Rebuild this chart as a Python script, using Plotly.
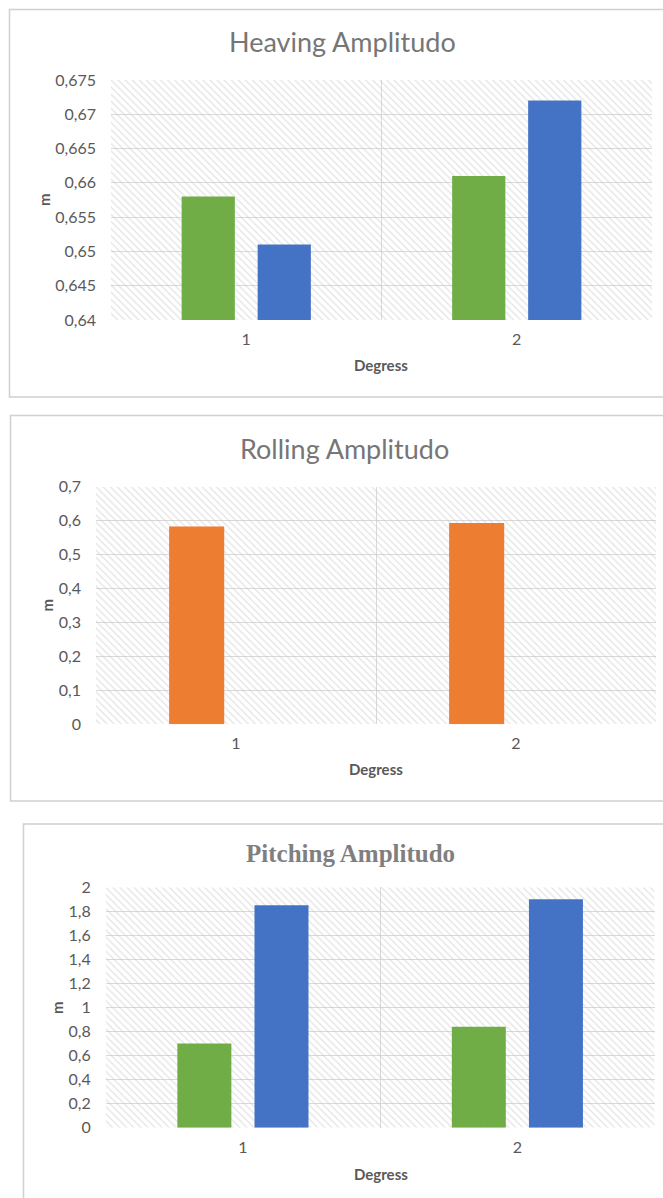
import plotly.graph_objects as go

# ---- data ----
DEGREES = [1, 2]
DEGREE_LABELS = ["1", "2"]

HEAVE_GREEN = [0.658, 0.661]
HEAVE_BLUE = [0.651, 0.672]
HEAVE_TICKS = [0.64, 0.645, 0.65, 0.655, 0.66, 0.665, 0.67, 0.675]
HEAVE_TICKTEXT = ["0,64", "0,645", "0,65", "0,655", "0,66", "0,665", "0,67", "0,675"]

ROLL_ORANGE = [0.583, 0.593]
ROLL_EMPTY = [None, None]
ROLL_TICKS = [0, 0.1, 0.2, 0.3, 0.4, 0.5, 0.6, 0.7]
ROLL_TICKTEXT = ["0", "0,1", "0,2", "0,3", "0,4", "0,5", "0,6", "0,7"]

PITCH_GREEN = [0.70, 0.84]
PITCH_BLUE = [1.85, 1.90]
PITCH_TICKS = [0, 0.2, 0.4, 0.6, 0.8, 1.0, 1.2, 1.4, 1.6, 1.8, 2.0]
PITCH_TICKTEXT = ["0", "0,2", "0,4", "0,6", "0,8", "1", "1,2", "1,4", "1,6", "1,8", "2"]

TITLES = ["Heaving Amplitudo", "Rolling Amplitudo", "Pitching Amplitudo"]
X_TITLE = "Degress"
Y_TITLE = "m"

# ---- style ----
W, H = 663, 1198
GREEN = "#70AD47"
BLUE = "#4472C4"
ORANGE = "#ED7D31"
GRID = "#D9D9D9"
TEXT = "#595959"
SANS = "Lato, 'Open Sans', sans-serif"
X_RANGE = [0.5, 2.5]


def px_x(v):
    return v / W


def px_y(v):
    return 1 - v / H


# plot-area rectangles in pixels: (left, top, right, bottom)
AREAS = [
    (111, 80, 652, 320),
    (96, 486.7, 656, 724.3),
    (105.7, 887.3, 654.6, 1127.7),
]

fig = go.Figure()

panels = [
    dict(series=[(HEAVE_GREEN, GREEN), (HEAVE_BLUE, BLUE)],
         ticks=HEAVE_TICKS, ticktext=HEAVE_TICKTEXT),
    dict(series=[(ROLL_ORANGE, ORANGE), (ROLL_EMPTY, BLUE)],
         ticks=ROLL_TICKS, ticktext=ROLL_TICKTEXT),
    dict(series=[(PITCH_GREEN, GREEN), (PITCH_BLUE, BLUE)],
         ticks=PITCH_TICKS, ticktext=PITCH_TICKTEXT),
]

for i, (panel, area) in enumerate(zip(panels, AREAS)):
    n = "" if i == 0 else str(i + 1)
    m = str(i + 4)
    xa, ya = "x" + n, "y" + n          # base subplot: grid + hatch
    xb, yb = "x" + m, "y" + m          # overlaid subplot: bars on top
    y_range = [panel["ticks"][0], panel["ticks"][-1]]

    # hatched plot-area background
    fig.add_trace(go.Scatter(
        x=[X_RANGE[0], X_RANGE[1], X_RANGE[1], X_RANGE[0], X_RANGE[0]],
        y=[y_range[0], y_range[0], y_range[1], y_range[1], y_range[0]],
        mode="none", fill="toself", fillcolor="rgba(0,0,0,0)",
        fillpattern=dict(shape="\\", fgcolor="#C8C8C8",
                         bgcolor="rgba(0,0,0,0)", size=5, solidity=0.25),
        hoverinfo="skip", showlegend=False, xaxis=xa, yaxis=ya,
    ))
    for vals, color in panel["series"]:
        fig.add_trace(go.Bar(
            x=DEGREES, y=vals, marker=dict(color=color, line=dict(width=0)),
            showlegend=False, xaxis=xb, yaxis=yb,
        ))

    left, top, right, bottom = area
    fig.update_layout({
        "xaxis" + n: dict(
            domain=[px_x(left), px_x(right)], anchor=ya, range=X_RANGE,
            tickvals=DEGREES, ticktext=DEGREE_LABELS, showgrid=False,
            zeroline=False, showline=False, ticks="", automargin=False,
            ticklabelstandoff=8,
            tickfont=dict(family=SANS, size=16, color=TEXT),
            minor=dict(tickvals=[0.5, 1.5, 2.5], showgrid=True,
                       gridcolor=GRID, gridwidth=1, ticks=""),
        ),
        "yaxis" + n: dict(
            domain=[px_y(bottom), px_y(top)], anchor=xa, range=y_range,
            tickvals=panel["ticks"], ticktext=panel["ticktext"],
            showgrid=True, gridcolor=GRID, gridwidth=1, zeroline=False,
            showline=False, ticks="", ticklabelstandoff=14, automargin=False,
            tickfont=dict(family=SANS, size=16, color=TEXT),
        ),
        "xaxis" + m: dict(
            overlaying=xa, anchor=yb, range=X_RANGE, visible=False,
            showgrid=False, zeroline=False, automargin=False,
        ),
        "yaxis" + m: dict(
            overlaying=ya, anchor=xb, range=y_range, visible=False,
            showgrid=False, zeroline=False, automargin=False,
        ),
    })

# titles and axis captions
TITLE_POS = [(342, 42), (344, 448), (350, 853)]
annotations = []
for i, (title, (tx, ty)) in enumerate(zip(TITLES, TITLE_POS)):
    if i == 2:
        font = dict(family="'Liberation Serif', 'Times New Roman', serif",
                    size=25, color="#7F7F7F", weight="bold")
    else:
        font = dict(family=SANS, size=27, color="#767676", weight=400)
    annotations.append(dict(x=px_x(tx), y=px_y(ty), xref="paper", yref="paper",
                            text=title, showarrow=False, font=font,
                            xanchor="center", yanchor="middle"))

X_TITLE_POS = [(381.5, 365), (376, 769), (381.5, 1174)]
Y_TITLE_POS = [(44, 200), (46.5, 605), (57, 1008)]
for (ax_, ay_), (bx, by) in zip(X_TITLE_POS, Y_TITLE_POS):
    annotations.append(dict(x=px_x(ax_), y=px_y(ay_), xref="paper", yref="paper",
                            text=X_TITLE, showarrow=False,
                            font=dict(family=SANS, size=15, color=TEXT, weight="bold"),
                            xanchor="center", yanchor="middle"))
    annotations.append(dict(x=px_x(bx), y=px_y(by), xref="paper", yref="paper",
                            text=Y_TITLE, showarrow=False, textangle=-90,
                            font=dict(family=SANS, size=15, color=TEXT, weight="bold"),
                            xanchor="center", yanchor="middle"))

# chart frames (right and bottom edges run off the page)
FRAMES = [(9.5, 9.5, 667, 397), (10.5, 415.5, 667, 801), (23.5, 824, 667, 1202)]
shapes = [dict(type="rect", xref="paper", yref="paper",
               x0=px_x(l), x1=px_x(r), y0=px_y(b), y1=px_y(t),
               line=dict(color="#D0D0D0", width=1.5), fillcolor="rgba(0,0,0,0)")
          for l, t, r, b in FRAMES]

fig.update_layout(
    width=W, height=H,
    margin=dict(l=0, r=0, t=0, b=0, pad=0, autoexpand=False),
    paper_bgcolor="white", plot_bgcolor="white",
    barmode="group", bargap=0.438, bargroupgap=0.30,
    annotations=annotations, shapes=shapes,
)

fig.write_html("out.html")
